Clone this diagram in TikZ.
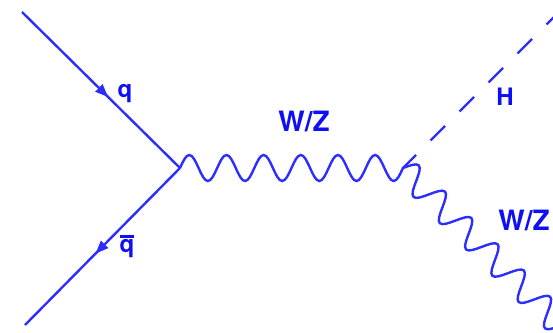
\documentclass[tikz,border=0pt]{standalone}
\usepackage{fontspec}
\setmainfont{TeX Gyre Heros}
\usetikzlibrary{decorations.pathmorphing,decorations.markings,arrows.meta}
\definecolor{lineblue}{RGB}{45,45,255}
\definecolor{textblue}{RGB}{15,15,245}
\newcommand{\barq}{\vbox{\hrule height 3pt\kern 1.5pt\hbox{q}}}
\pgfdeclaredecoration{sinewave}{initial}{
  \state{initial}[width=\pgfdecorationsegmentlength,
                  switch if less than=0.98\pgfdecorationsegmentlength to final]{
    \pgfpathcurveto{\pgfpoint{0.0836\pgfdecorationsegmentlength}{0.5251\pgfdecorationsegmentamplitude}}
                   {\pgfpoint{0.1592\pgfdecorationsegmentlength}{\pgfdecorationsegmentamplitude}}
                   {\pgfpoint{0.25\pgfdecorationsegmentlength}{\pgfdecorationsegmentamplitude}}
    \pgfpathcurveto{\pgfpoint{0.3409\pgfdecorationsegmentlength}{\pgfdecorationsegmentamplitude}}
                   {\pgfpoint{0.4164\pgfdecorationsegmentlength}{0.5251\pgfdecorationsegmentamplitude}}
                   {\pgfpoint{0.5\pgfdecorationsegmentlength}{0pt}}
    \pgfpathcurveto{\pgfpoint{0.5836\pgfdecorationsegmentlength}{-0.5251\pgfdecorationsegmentamplitude}}
                   {\pgfpoint{0.6592\pgfdecorationsegmentlength}{-\pgfdecorationsegmentamplitude}}
                   {\pgfpoint{0.75\pgfdecorationsegmentlength}{-\pgfdecorationsegmentamplitude}}
    \pgfpathcurveto{\pgfpoint{0.8409\pgfdecorationsegmentlength}{-\pgfdecorationsegmentamplitude}}
                   {\pgfpoint{0.9164\pgfdecorationsegmentlength}{-0.5251\pgfdecorationsegmentamplitude}}
                   {\pgfpoint{\pgfdecorationsegmentlength}{0pt}}
  }
  \state{final}{\pgfpathlineto{\pgfpointdecoratedpathlast}}
}
\tikzset{
  prop/.style={line width=2.4pt, draw=lineblue},
  fermion/.style={prop, postaction={decorate}, decoration={markings,
     mark=at position 0.545 with {\arrow{Triangle[length=13pt,width=10pt]}}}},
  boson/.style={prop, decorate, decoration={sinewave, segment length=37.16pt, amplitude=13pt}},
  scalar/.style={prop, dash pattern=on 20.5pt off 20.5pt, dash phase=2pt},
  lbl/.style={text=textblue, font=\bfseries\fontsize{24}{24}\selectfont, inner sep=0pt},
  biglbl/.style={text=textblue, font=\bfseries\fontsize{28}{28}\selectfont, inner sep=0pt}
}
\begin{document}
\begin{tikzpicture}[x=1pt,y=-1pt,>=Triangle]
\useasboundingbox (0,0) rectangle (553,332);
\clip (0,0) rectangle (553,332);
\coordinate (qin) at (22,12);
\coordinate (qbarout) at (25,325);
\coordinate (v1) at (180,168);
\coordinate (v2) at (403,168);
\coordinate (hend) at (583,-12);
\coordinate (wend) at (603,368);
\draw[fermion] (qin) -- (v1);
\draw[fermion] (v1) -- (qbarout);
\draw[boson] (v1) -- (v2);
\draw[scalar] (v2) -- (hend);
\draw[boson] (v2) -- (wend);
\node[lbl] (lq) at (125,94) {q};
\node[lbl] (lqbar) at (127,246) {\barq};
\node[biglbl] (lw1) at (304,121) {W/Z};
\node[lbl] (lh) at (505,97) {H};
\node[biglbl] (lw2) at (524,220) {W/Z};
\end{tikzpicture}
\end{document}
